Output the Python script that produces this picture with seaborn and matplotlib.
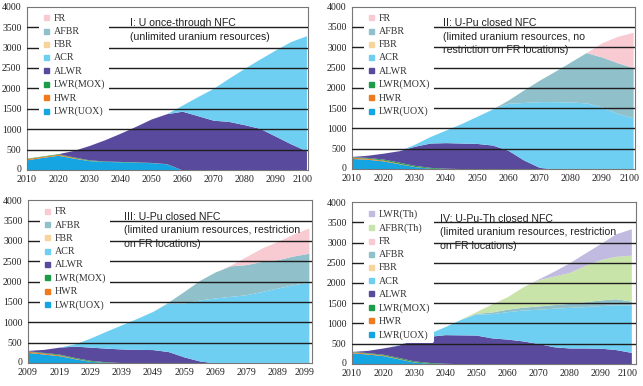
import matplotlib
matplotlib.use("Agg")
import matplotlib.pyplot as plt
import matplotlib.transforms as mtransforms
from matplotlib.lines import Line2D
import seaborn as sns

# ---------------- data ----------------
categories = ["LWR(UOX)", "HWR", "LWR(MOX)", "ALWR", "ACR", "FBR", "AFBR", "FR", "AFBR(Th)", "LWR(Th)"]
colors = {
    "LWR(UOX)": "#14A5E2",
    "HWR": "#F07A1E",
    "LWR(MOX)": "#1C9B48",
    "ALWR": "#5A4A9D",
    "ACR": "#6ECFF2",
    "FBR": "#F8D49C",
    "AFBR": "#90C0CA",
    "FR": "#F8CAD2",
    "AFBR(Th)": "#C9E4A9",
    "LWR(Th)": "#C2BBE1",
}

years_a = [2010, 2015, 2020, 2025, 2030, 2035, 2040, 2045, 2050, 2055,
           2060, 2065, 2070, 2075, 2080, 2085, 2090, 2095, 2100]
years_c = [2009, 2014, 2019, 2024, 2029, 2034, 2039, 2044, 2049, 2054,
           2059, 2064, 2069, 2074, 2079, 2084, 2089, 2094, 2099]

# Panel I
p1_uox = [250, 310, 360, 290, 230, 210, 200, 190, 180, 150, 0, 0, 0, 0, 0, 0, 0, 0, 0]
p1_hwr = [30, 25, 25, 15, 5, 0, 0, 0, 0, 0, 0, 0, 0, 0, 0, 0, 0, 0, 0]
p1_mox = [10, 10, 15, 15, 15, 10, 10, 10, 5, 5, 0, 0, 0, 0, 0, 0, 0, 0, 0]
p1_alwr = [0, 0, 0, 160, 350, 520, 690, 870, 1065, 1225, 1440, 1330, 1220, 1190, 1110, 1020, 830, 640, 470]
p1_acr = [0, 0, 0, 0, 0, 0, 0, 0, 0, 0, 150, 470, 780, 1060, 1380, 1700, 2110, 2510, 2820]

# Panel II
p2_uox = [260, 240, 200, 130, 60, 20, 5, 0, 0, 0, 0, 0, 0, 0, 0, 0, 0, 0, 0]
p2_hwr = [30, 25, 20, 10, 5, 0, 0, 0, 0, 0, 0, 0, 0, 0, 0, 0, 0, 0, 0]
p2_mox = [15, 20, 25, 30, 25, 20, 15, 10, 5, 0, 0, 0, 0, 0, 0, 0, 0, 0, 0]
p2_alwr = [5, 55, 145, 280, 470, 600, 630, 630, 625, 590, 460, 220, 40, 0, 0, 0, 0, 0, 0]
p2_acr = [0, 0, 0, 0, 50, 160, 310, 480, 670, 890, 1160, 1420, 1620, 1660, 1650, 1630, 1530, 1370, 1265]
p2_afbr = [0, 0, 0, 0, 0, 0, 0, 0, 0, 0, 80, 310, 530, 750, 990, 1240, 1230, 1250, 1235]
p2_fr = [0, 0, 0, 0, 0, 0, 0, 0, 0, 0, 0, 0, 0, 0, 0, 0, 350, 650, 870]

# Panel III
p3_uox = [260, 220, 180, 105, 40, 15, 0, 0, 0, 0, 0, 0, 0, 0, 0, 0, 0, 0, 0]
p3_hwr = [30, 25, 20, 10, 5, 0, 0, 0, 0, 0, 0, 0, 0, 0, 0, 0, 0, 0, 0]
p3_mox = [10, 15, 20, 20, 20, 15, 10, 5, 0, 0, 0, 0, 0, 0, 0, 0, 0, 0, 0]
p3_alwr = [10, 75, 170, 280, 325, 335, 335, 330, 330, 280, 150, 50, 0, 0, 0, 0, 0, 0, 0]
p3_acr = [0, 0, 0, 55, 225, 415, 595, 765, 940, 1200, 1325, 1500, 1600, 1640, 1680, 1760, 1845, 1925, 1985]
p3_afbr = [0, 0, 0, 0, 0, 0, 0, 0, 0, 20, 285, 480, 640, 750, 740, 740, 695, 705, 715]
p3_fr = [0, 0, 0, 0, 0, 0, 0, 0, 0, 0, 0, 0, 0, 20, 200, 330, 450, 540, 620]

# Panel IV
p4_uox = [270, 240, 200, 120, 40, 10, 0, 0, 0, 0, 0, 0, 0, 0, 0, 0, 0, 0, 0]
p4_hwr = [25, 20, 15, 10, 5, 0, 0, 0, 0, 0, 0, 0, 0, 0, 0, 0, 0, 0, 0]
p4_mox = [10, 15, 20, 25, 25, 20, 10, 0, 0, 0, 0, 0, 0, 0, 0, 0, 0, 0, 0]
p4_alwr = [0, 55, 155, 305, 530, 650, 710, 715, 710, 640, 610, 565, 500, 420, 390, 390, 385, 350, 280]
p4_acr = [0, 0, 0, 10, 20, 80, 200, 385, 520, 600, 680, 765, 850, 955, 1005, 1025, 1055, 1110, 1180]
p4_afbr = [0, 0, 0, 0, 0, 0, 0, 0, 20, 40, 60, 70, 80, 90, 100, 120, 140, 150, 90]
p4_afbr_th = [0, 0, 0, 0, 0, 0, 0, 0, 40, 200, 310, 500, 650, 705, 765, 895, 1000, 1050, 1140]
p4_lwr_th = [0, 0, 0, 0, 0, 0, 0, 0, 0, 0, 0, 0, 20, 120, 240, 310, 395, 560, 655]

xticks_a = [2010, 2020, 2030, 2040, 2050, 2060, 2070, 2080, 2090, 2100]
xticks_c = [2009, 2019, 2029, 2039, 2049, 2059, 2069, 2079, 2089, 2099]
yticks = [0, 500, 1000, 1500, 2000, 2500, 3000, 3500, 4000]

legend_std = ["FR", "AFBR", "FBR", "ACR", "ALWR", "LWR(MOX)", "HWR", "LWR(UOX)"]
legend_th = ["LWR(Th)", "AFBR(Th)"] + legend_std

titles = [
    "I: U once-through NFC\n(unlimited uranium resources)",
    "II: U-Pu closed NFC\n(limited uranium resources, no\nrestriction on FR locations)",
    "III: U-Pu closed NFC\n(limited uranium resources, restriction\non FR locations)",
    "IV: U-Pu-Th closed NFC\n(limited uranium resources, restriction\non FR locations)",
]

# ---------------- style ----------------
sns.set_theme(style="white")
plt.rcParams["font.family"] = ["Liberation Serif", "DejaVu Serif"]

fig = plt.figure(figsize=(6.43, 3.86), dpi=100)

panels = [
    dict(rect=[27 / 643, 1 - 170 / 386, 281 / 643, 163.3 / 386], years=years_a, xticks=xticks_a,
         xlim=(2010, 2100.5),
         series=[("LWR(UOX)", p1_uox), ("HWR", p1_hwr), ("LWR(MOX)", p1_mox), ("ALWR", p1_alwr), ("ACR", p1_acr)],
         legend=legend_std, title_x=0.365),
    dict(rect=[352 / 643, 1 - 169 / 386, 283 / 643, 162.3 / 386], years=years_a, xticks=xticks_a,
         xlim=(2010, 2100.6),
         series=[("LWR(UOX)", p2_uox), ("HWR", p2_hwr), ("LWR(MOX)", p2_mox), ("ALWR", p2_alwr), ("ACR", p2_acr),
                 ("AFBR", p2_afbr), ("FR", p2_fr)],
         legend=legend_std, title_x=0.32),
    dict(rect=[28 / 643, 1 - 363 / 386, 284 / 643, 162.7 / 386], years=years_c, xticks=xticks_c,
         xlim=(2009, 2100),
         series=[("LWR(UOX)", p3_uox), ("HWR", p3_hwr), ("LWR(MOX)", p3_mox), ("ALWR", p3_alwr), ("ACR", p3_acr),
                 ("AFBR", p3_afbr), ("FR", p3_fr)],
         legend=legend_std, title_x=0.338),
    dict(rect=[352 / 643, 1 - 363.7 / 386, 284 / 643, 161.4 / 386], years=years_a, xticks=xticks_a,
         xlim=(2010, 2101.5),
         series=[("LWR(UOX)", p4_uox), ("HWR", p4_hwr), ("LWR(MOX)", p4_mox), ("ALWR", p4_alwr), ("ACR", p4_acr),
                 ("AFBR", p4_afbr), ("AFBR(Th)", p4_afbr_th), ("LWR(Th)", p4_lwr_th)],
         legend=legend_th, title_x=0.31),
]

for i, p in enumerate(panels):
    ax = fig.add_axes(p["rect"])
    names = [s[0] for s in p["series"]]
    vals = [s[1] for s in p["series"]]
    ax.stackplot(p["years"], *vals, colors=[colors[n] for n in names], linewidth=0, zorder=2)
    for yv in yticks[1:-1]:
        ax.axhline(yv, color="#1e1e1e", lw=1.0, zorder=3)
    ax.set_xlim(*p["xlim"])
    ax.set_ylim(0, 4000)
    ax.set_xticks(p["xticks"])
    ax.set_yticks(yticks)
    ax.set_xticklabels([str(t) for t in p["xticks"]])
    ax.set_yticklabels([str(t) for t in yticks])
    ax.tick_params(axis="x", direction="in", length=3, width=0.8, color="#555555",
                   labelsize=7.2, pad=3.5, labelcolor="#222222")
    ax.tick_params(axis="y", direction="out", length=2.5, width=0.8, color="#555555",
                   labelsize=7.0, pad=1.5, labelcolor="#222222")
    xl = ax.get_xticklabels()
    xl[-1].set_horizontalalignment("right")
    xl[-1].set_transform(xl[-1].get_transform() + mtransforms.ScaledTranslation(6 / 100, 0, fig.dpi_scale_trans))
    yl = ax.get_yticklabels()
    yl[0].set_transform(yl[0].get_transform() + mtransforms.ScaledTranslation(0, 1.5 / 100, fig.dpi_scale_trans))
    for sp in ax.spines.values():
        sp.set_color("#777777")
        sp.set_linewidth(0.8)
        sp.set_visible(True)

    handles = [Line2D([], [], marker="s", linestyle="", markersize=3.6,
                      markerfacecolor=colors[n], markeredgecolor=colors[n]) for n in p["legend"]]
    leg = ax.legend(handles, p["legend"], loc="upper left", bbox_to_anchor=(0.035, 0.99),
                    frameon=True, fontsize=7.2, labelspacing=0.42, handlelength=0.8,
                    handletextpad=0.35, borderpad=0.35, borderaxespad=0.2)
    leg.get_frame().set_facecolor("white")
    leg.get_frame().set_edgecolor("white")
    leg.get_frame().set_alpha(1)
    leg.get_frame().set_linewidth(0)
    leg.set_zorder(5)
    for t in leg.get_texts():
        t.set_color("#333333")

    ax.text(p["title_x"], 0.93, titles[i], transform=ax.transAxes, ha="left", va="top",
            fontsize=7.6, family=["Liberation Sans", "DejaVu Sans"], color="#222222",
            linespacing=1.45, zorder=6)

fig.savefig("out.png", dpi=100)
